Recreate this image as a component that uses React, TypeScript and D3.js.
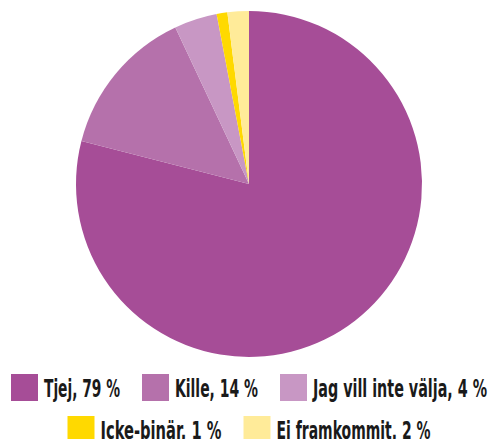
import * as d3 from "d3";

const labels = ["Tjej", "Kille", "Jag vill inte välja", "Icke-binär", "Ej framkommit"];
const values = [79, 14, 4, 1, 2];
const colors = ["#A64D97", "#B571AB", "#C897C4", "#FFD900", "#FFEB99"];
const rows = [[0, 1, 2], [3, 4]];
// rendered text widths of each legend label
const textW = [76, 83, 174, 121, 154];

const W = 491;
const H = 439;
const cx = 249;
const cy = 184;
const r = 173;

const App = () => {
  const pie = d3.pie<number>().sort(null).value((d) => d);
  const arc = d3.arc<d3.PieArcDatum<number>>().innerRadius(0).outerRadius(r);
  const arcs = pie(values);

  const sq = 27;
  const gapText = 6;
  const gapItem = 22;

  return (
    <svg width={W} height={H} style={{ position: "absolute", left: 0, top: 0 }}>
      <g transform={`translate(${cx},${cy})`}>
        {arcs.map((a, i) => (
          <path key={i} d={arc(a) as string} fill={colors[i]} />
        ))}
      </g>
      {rows.map((row, ri) => {
        const total =
          row.reduce((s, i) => s + sq + gapText + textW[i], 0) + gapItem * (row.length - 1);
        let x = cx - total / 2;
        const y = 374 + ri * 42;
        return (
          <g key={ri}>
            {row.map((i) => {
              const x0 = x;
              x += sq + gapText + textW[i] + gapItem;
              return (
                <g key={i}>
                  <rect x={x0} y={y} width={sq} height={sq} fill={colors[i]} />
                  <text
                    x={x0 + sq + gapText}
                    y={y + 23}
                    textLength={textW[i]}
                    lengthAdjust="spacingAndGlyphs"
                    style={{
                      fontFamily: "'DejaVu Sans Condensed', 'Liberation Sans Narrow', sans-serif",
                      fontWeight: 700,
                      fontSize: 24,
                      fill: "#1a1a1a",
                    }}
                  >
                    {`${labels[i]}, ${values[i]} %`}
                  </text>
                </g>
              );
            })}
          </g>
        );
      })}
    </svg>
  );
};

export default App;
